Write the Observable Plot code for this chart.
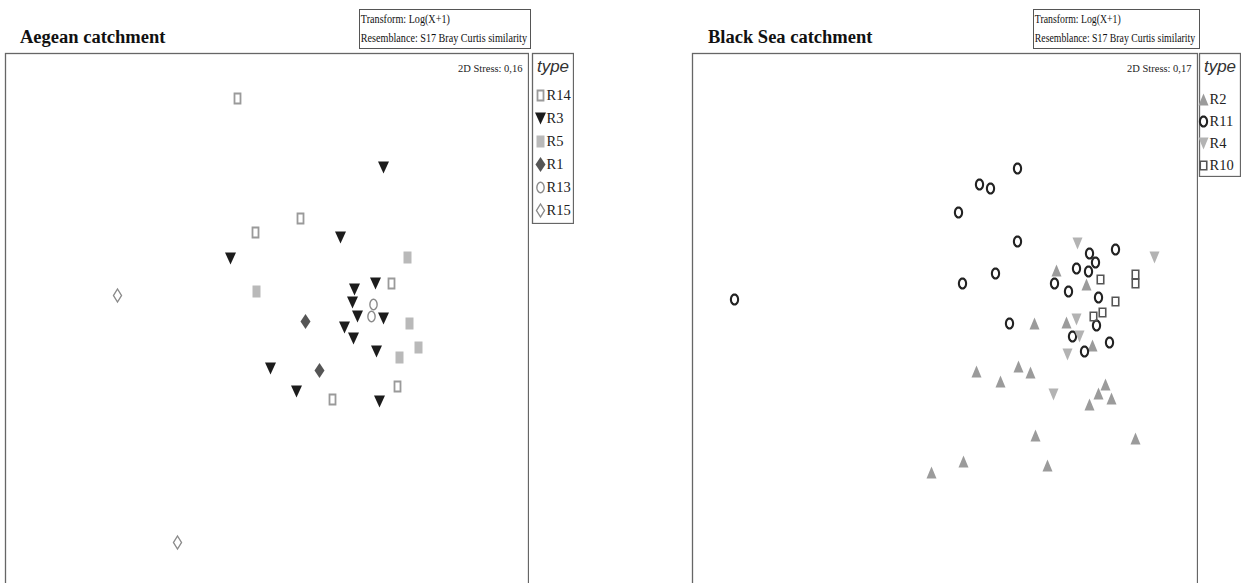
<!DOCTYPE html>
<html><head><meta charset="utf-8">
<script src="https://cdn.jsdelivr.net/npm/d3@7"></script>
<script src="https://cdn.jsdelivr.net/npm/@observablehq/plot@0.6"></script>
<style>
body{margin:0;background:#fff;}
#root{position:relative;width:1243px;height:583px;overflow:hidden;font-family:"Liberation Serif",serif;color:#111;}
.abs{position:absolute;}
.title{font-weight:bold;font-size:18.5px;line-height:20px;white-space:nowrap;}
.tbox{border:1px solid #555;font-size:12px;line-height:19px;white-space:nowrap;overflow:hidden;}
.tbox div{transform-origin:left center;padding-left:1px;}
</style></head><body><div id="root"></div>
<script>
// ---- data (NMDS coordinates) ----
const aegeanTypes = ["R14", "R3", "R5", "R1", "R13", "R15"];
const aegeanR14 = [[-0.29,2.02],[0.34,0.82],[-0.11,0.68],[1.25,0.17],[1.31,-0.86],[0.66,-0.99]];
const aegeanR3 = [[1.17,1.33],[0.74,0.63],[-0.36,0.42],[1.09,0.17],[0.88,0.11],[0.86,-0.02],[0.91,-0.16],[1.17,-0.18],[0.78,-0.27],[0.87,-0.38],[1.10,-0.51],[0.04,-0.68],[0.30,-0.91],[1.13,-1.01]];
const aegeanR5 = [[1.41,0.43],[-0.10,0.09],[1.43,-0.23],[1.52,-0.47],[1.33,-0.57]];
const aegeanR1 = [[0.39,-0.21],[0.53,-0.70]];
const aegeanR13 = [[1.07,-0.04],[1.05,-0.16]];
const aegeanR15 = [[-1.49,0.05],[-0.89,-2.42]];
const aegeanStress = "2D Stress: 0,16";

const blackTypes = ["R2", "R11", "R4", "R10"];
const blackR2 = [[1.06,0.30],[1.36,0.16],[0.84,-0.23],[1.16,-0.22],[1.42,-0.45],[0.26,-0.71],[0.68,-0.66],[0.80,-0.72],[0.50,-0.81],[1.55,-0.84],[1.48,-0.93],[1.61,-0.98],[1.39,-1.04],[0.85,-1.35],[1.85,-1.38],[0.13,-1.61],[0.97,-1.65],[-0.19,-1.72]];
const blackR11 = [[-2.16,0.01],[0.67,1.32],[0.29,1.16],[0.40,1.12],[0.08,0.88],[0.67,0.59],[0.45,0.27],[0.12,0.17],[1.39,0.47],[1.45,0.38],[1.65,0.51],[1.26,0.32],[1.38,0.29],[1.04,0.17],[1.18,0.09],[1.48,0.03],[0.59,-0.23],[1.46,-0.25],[1.22,-0.36],[1.59,-0.42],[1.34,-0.51]];
const blackR4 = [[1.27,0.57],[2.04,0.43],[1.26,-0.19],[1.29,-0.36],[1.17,-0.54],[1.03,-0.94]];
const blackR10 = [[1.50,0.21],[1.85,0.26],[1.85,0.17],[1.65,-0.01],[1.52,-0.12],[1.43,-0.16]];
const blackStress = "2D Stress: 0,17";

const transformText = "Transform: Log(X+1)";
const resemblanceText = "Resemblance: S17 Bray Curtis similarity";

// ---- symbols ----
const poly = pts => ({draw(ctx){ctx.moveTo(pts[0][0], pts[0][1]); for (const p of pts.slice(1)) ctx.lineTo(p[0], p[1]); ctx.closePath();}});
const rect = (w, h) => poly([[-w/2,-h/2],[w/2,-h/2],[w/2,h/2],[-w/2,h/2]]);
const triDown = (w, h) => poly([[-w/2,-h/2],[w/2,-h/2],[0,h/2]]);
const triUp = (w, h) => poly([[-w/2,h/2],[w/2,h/2],[0,-h/2]]);
const diamond = (w, h) => poly([[0,-h/2],[w/2,0],[0,h/2],[-w/2,0]]);
const ellipse = (rx, ry) => poly(d3.range(28).map(i => [rx*Math.cos(i*Math.PI/14), ry*Math.sin(i*Math.PI/14)]));

const aegeanStyles = {
  R14: {symbol: rect(6, 10), fill: "none", stroke: "#9a9a9a", strokeWidth: 1.8},
  R3:  {symbol: triDown(11, 12), fill: "#1c1c1c", stroke: "none"},
  R5:  {symbol: rect(8, 12), fill: "#b9b9b9", stroke: "none"},
  R1:  {symbol: diamond(10, 15), fill: "#555", stroke: "none"},
  R13: {symbol: ellipse(3.6, 5.2), fill: "none", stroke: "#8a8a8a", strokeWidth: 1.4},
  R15: {symbol: diamond(8, 13), fill: "none", stroke: "#8a8a8a", strokeWidth: 1.4}
};
const blackStyles = {
  R2:  {symbol: triUp(10, 12), fill: "#9b9b9b", stroke: "none"},
  R11: {symbol: ellipse(3.6, 5.0), fill: "none", stroke: "#222", strokeWidth: 2.1},
  R4:  {symbol: triDown(10, 12), fill: "#b3b3b3", stroke: "none"},
  R10: {symbol: rect(6.5, 8.5), fill: "none", stroke: "#555", strokeWidth: 1.6}
};
const aegeanSeries = {R14: aegeanR14, R3: aegeanR3, R5: aegeanR5, R1: aegeanR1, R13: aegeanR13, R15: aegeanR15};
const blackSeries = {R2: blackR2, R11: blackR11, R4: blackR4, R10: blackR10};

const root = document.getElementById("root");
function place(el, left, top) { el.classList.add("abs"); el.style.left = left + "px"; el.style.top = top + "px"; root.appendChild(el); return el; }

function panel(types, series, styles, stress, xDomain, yDomain, width, height) {
  return Plot.plot({
    width, height, margin: 1,
    x: {domain: xDomain, axis: null},
    y: {domain: yDomain, axis: null},
    marks: [
      Plot.frame({stroke: "#666", strokeWidth: 1.3}),
      ...types.map(t => Plot.dot(series[t], {x: d => d[0], y: d => d[1], r: 1, ...styles[t]})),
      Plot.text([stress], {text: d => d, frameAnchor: "top-right", dx: -6, dy: 11, fontSize: 10.5, fontFamily: "Liberation Serif", fill: "#222"})
    ]
  });
}

function legend(types, styles, width, height, yRange, markDx, labelDx) {
  return Plot.plot({
    width, height, margin: 1,
    y: {type: "point", domain: types, range: yRange, padding: 0, axis: null},
    marks: [
      Plot.frame({stroke: "#666", strokeWidth: 1.3}),
      Plot.text(["type"], {text: d => d, frameAnchor: "top", dy: 6, fontSize: 17, fontStyle: "italic", fontFamily: "Liberation Sans", fill: "#333"}),
      ...types.map(t => Plot.dot([t], {y: d => d, frameAnchor: "left", dx: markDx, r: 1, ...styles[t]})),
      Plot.text(types, {y: d => d, text: d => d, frameAnchor: "left", dx: labelDx, textAnchor: "start", fontSize: 14.5, fontFamily: "Liberation Serif", fill: "#222"})
    ]
  });
}

function titleDiv(text, left) {
  const d = document.createElement("div"); d.className = "title"; d.textContent = text; place(d, left, 27);
}
function tbox(left, width, scale) {
  const d = document.createElement("div"); d.className = "tbox";
  d.style.width = width + "px"; d.style.height = "38px";
  const a = document.createElement("div"); a.textContent = transformText;
  const b = document.createElement("div"); b.textContent = resemblanceText;
  a.style.transform = b.style.transform = `scaleX(${scale})`;
  d.appendChild(a); d.appendChild(b); place(d, left, 9);
}

titleDiv("Aegean catchment", 20);
titleDiv("Black Sea catchment", 708);
tbox(359, 170, 0.845);
tbox(1033, 165, 0.815);

place(panel(aegeanTypes, aegeanSeries, aegeanStyles, aegeanStress, [-2.61, 2.62], [-3.03, 2.47], 525, 552), 4, 52);
place(panel(blackTypes, blackSeries, blackStyles, blackStress, [-2.58, 2.47], [-3.03, 2.47], 507, 552), 691, 52);
place(legend(aegeanTypes, aegeanStyles, 43, 172, [41, 159], 8, 14), 531, 52);
place(legend(blackTypes, blackStyles, 43, 125, [46, 113], 4, 10), 1198, 52);
</script></body></html>
